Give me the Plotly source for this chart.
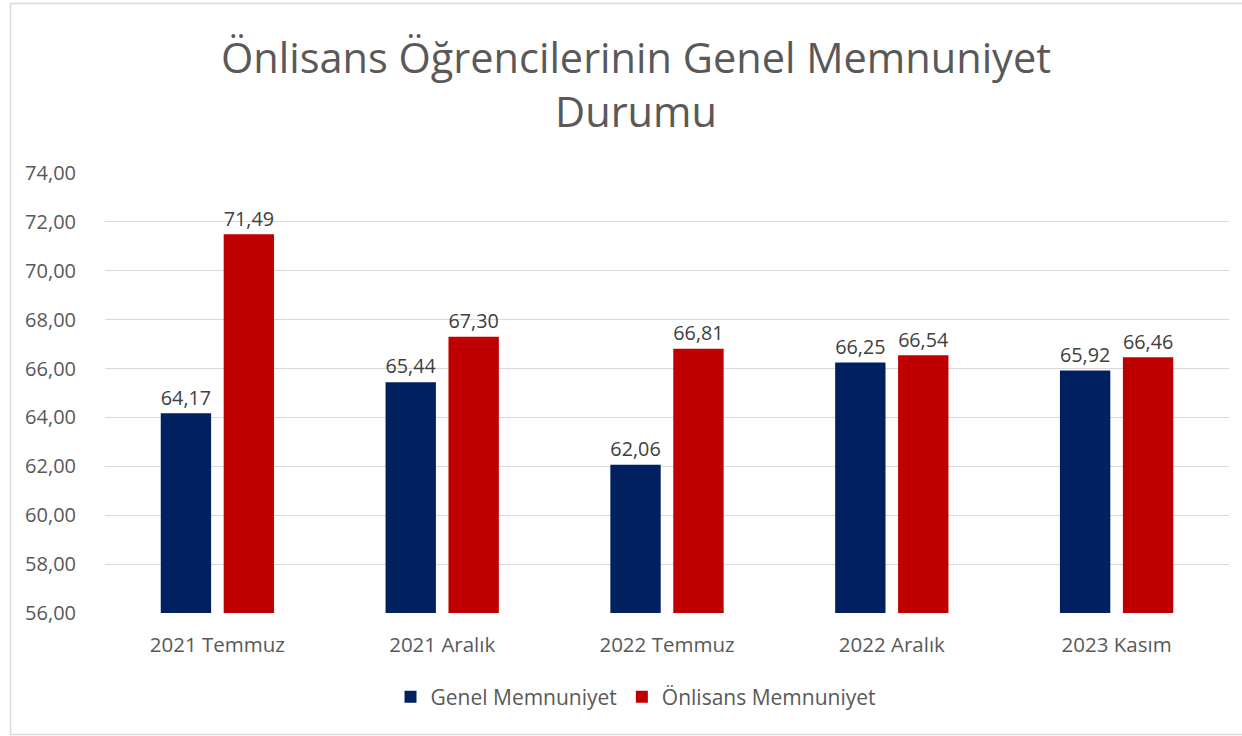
import plotly.graph_objects as go

categories = ["2021 Temmuz", "2021 Aralık", "2022 Temmuz", "2022 Aralık", "2023 Kasım"]
genel = [64.17, 65.44, 62.06, 66.25, 65.92]
onlisans = [71.49, 67.30, 66.81, 66.54, 66.46]
series_names = ["Genel Memnuniyet", "Önlisans Memnuniyet"]
tick_vals = [56, 58, 60, 62, 64, 66, 68, 70, 72, 74]

FONT = "Open Sans"
fig = go.Figure()
for name, vals, color in [(series_names[0], genel, "#002060"), (series_names[1], onlisans, "#C00000")]:
    fig.add_trace(go.Bar(
        x=categories, y=vals, name=name, marker=dict(color=color, line=dict(width=0)),
        texttemplate="%{y:.2f}", textposition="outside", cliponaxis=False,
        textfont=dict(size=20.5, color="#404040", family=FONT),
    ))

W, H = 1242, 736
L, R, T, B = 105, 13, 173, 123
pw, ph = W - L - R, H - T - B
fig.add_shape(type="rect", xref="paper", yref="paper",
              x0=(10.5 - L) / pw, x1=(1250 - L) / pw,
              y0=(H - B - 734.5) / ph, y1=(H - B - 3.5) / ph,
              line=dict(color="#d9d9d9", width=1.5), layer="below")

fig.update_layout(
    width=W, height=H,
    margin=dict(l=L, r=R, t=T, b=B),
    paper_bgcolor="white", plot_bgcolor="white",
    separators=",.",
    barmode="group", bargap=0.44, bargroupgap=0.2,
    title=dict(text="Önlisans Öğrencilerinin Genel Memnuniyet<br>Durumu",
               x=636 / W, xanchor="center", y=1 - 73 / H, yanchor="middle",
               font=dict(size=41.5, color="#595959", family=FONT)),
    font=dict(family=FONT, color="#595959"),
    legend=dict(orientation="h", x=(636 - L) / pw, xanchor="center",
                y=(H - B - 697) / ph, yanchor="middle",
                font=dict(size=21, color="#595959", family=FONT),
                itemwidth=30, traceorder="normal"),
    xaxis=dict(showgrid=False, showline=False, ticks="outside", ticklen=13,
               tickcolor="rgba(0,0,0,0)",
               tickfont=dict(size=20.5, color="#595959", family=FONT)),
    yaxis=dict(range=[56, 74], tickvals=tick_vals, tickformat=".2f",
               showgrid=True, gridcolor="#d9d9d9", gridwidth=1,
               zeroline=False, showline=False, ticks="outside", ticklen=24,
               tickcolor="rgba(0,0,0,0)",
               tickfont=dict(size=20, color="#595959", family=FONT)),
)
fig.write_html("out.html", config={"displayModeBar": False},
               post_script="document.body.style.margin='0';")
